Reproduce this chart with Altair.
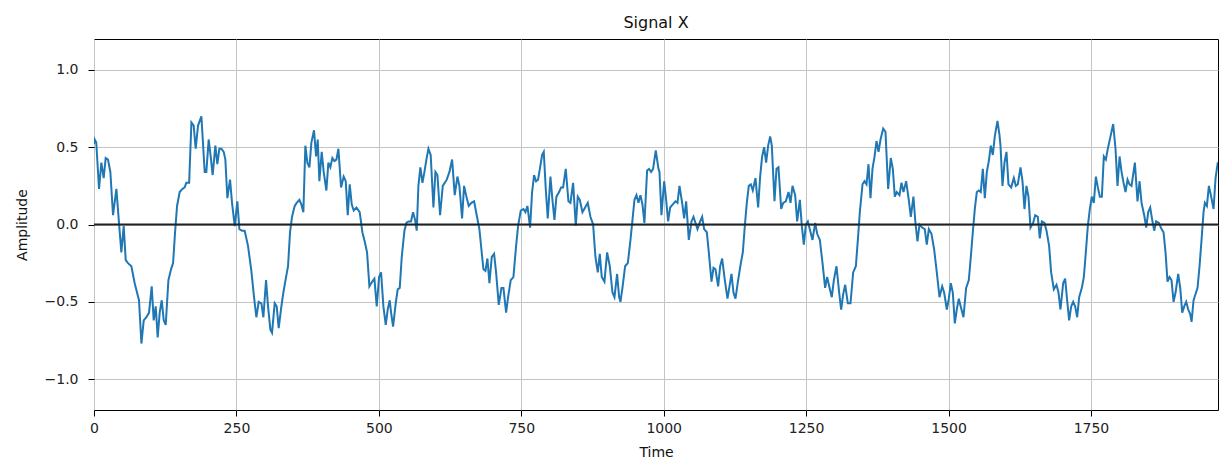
import altair as alt
import pandas as pd

# Sampled signal: time stamps and amplitudes
time = [
    0, 1.2, 4, 8.8, 12.9, 17, 20.5, 24.6, 28.7, 33.4, 39.3, 43.9, 48, 52.1, 55.7, 59.7, 65.6, 71.4, 79, 83.2,
    87.3, 92, 96.6, 101.3, 104.8, 108.3, 111.8, 115.3, 118.9, 122.4, 125.9, 130.6, 135.2, 138.8, 142.3, 145.8,
    150.4, 155.1, 159.2, 162.1, 167, 171, 175, 178.5, 182.6, 188.5, 194.3,
    197.2, 201.3, 204.8, 208.3, 213, 216.5, 220, 223.6, 227.7, 230.6, 234.1, 238.8, 242.3, 247, 251.6, 255.2,
    259.8, 264.5, 270.4, 276.2, 280.9, 285, 289.1, 293.8, 297.3, 302, 305.5, 309.6, 312.5, 317.2, 320.7, 324.2,
    328.9, 332.4, 337.1, 340.6, 344.1, 347.6, 352.3, 355.8, 360.5, 364, 367.5, 371, 374.5, 378.1, 381.6, 386.2,
    389.8, 392.7, 395.6, 399.7,
    403.2, 407.9, 411.4, 414.9, 418.4, 422, 425.5, 429, 433.7, 438.3, 441.9, 445.4, 448.9, 452.4, 455.9, 460.6,
    466.4, 471.1, 475.8, 479.3, 483.4, 488.1, 492.2, 496.3, 500.4, 503.9, 508, 512.1, 515.6, 519.1, 521.5, 525,
    529.6, 533.1, 536.7, 540.2, 544.9, 548.4, 551.9, 556.5, 560.1, 563.6, 566.5, 569.4, 572.9, 576.5, 580, 583.5,
    587, 591,
    595.8, 599.3, 602.8, 607.5, 612.2, 615.7, 619.2, 623.9, 628.6, 633.2, 637.9, 641.4, 646.1, 649.6, 653.1,
    657.8, 662.5, 667.2, 671.8, 676.5, 680, 683.6, 687.1, 690.6, 694.1, 698.2, 702.3, 705.8, 710.5, 715.2, 718.7,
    723.4, 726.9, 731.5, 736.2, 740.9, 744.4, 749.1, 753.8, 757.3, 760.8, 765.5, 769, 772.5, 776, 779.5, 783.1,
    786.6, 789.5,
    793, 796.5, 801.2, 804.7, 808.2, 811.7, 816.4, 819.9, 823.4, 828.1, 832.8, 836.3, 841, 845.7, 849.2, 852.7,
    857.4, 862.1, 866.7, 871.4, 876.1, 880.2, 884.3, 887.8, 891.3, 896, 900.7, 905.4, 910.1, 913.6, 918.2, 921.8,
    924.1, 927.6, 932.3, 937, 941.7, 945.2, 948.7, 952.2, 955.7, 959.2, 962.7, 966.2, 970.9, 974.4, 977.9, 981.4,
    986.1, 990.8,
    992.6, 996.1, 1000.8, 1004.3, 1007.8, 1011.3, 1016, 1020.7, 1024.2, 1027.7, 1032.4, 1035.9, 1039.4, 1044.1,
    1048.8, 1052.3, 1055.8, 1059.3, 1064, 1067.5, 1071, 1075.7, 1079.2, 1083.9, 1087.4, 1090.9, 1095.6, 1099.1,
    1102.6, 1107.3, 1112, 1115.5, 1119, 1122.5, 1126, 1130.7, 1135.4, 1138.9, 1142.4, 1145.9, 1149.4, 1152.9,
    1156.4, 1161.1, 1165.8, 1169.3, 1172.8, 1176.3, 1179.8, 1183.4, 1186.9,
    1189.8, 1194.5, 1198, 1201.5, 1206.2, 1209.7, 1214.4, 1219.1, 1222.6, 1226.1, 1230.8, 1234.3, 1239, 1242.5,
    1246, 1249.5, 1253, 1256.5, 1261.2, 1265.9, 1269.4, 1274.1, 1278.8, 1283.4, 1286.9, 1290.5, 1295.1, 1298.7,
    1303.3, 1308, 1311.5, 1315.1, 1318.6, 1323.2, 1327.9, 1332.6, 1337.3, 1340.8, 1344.3, 1349, 1352.5, 1356,
    1359.5, 1363, 1366.5, 1370.1, 1373.6, 1377.1, 1380.6, 1385.3,
    1389.3, 1394, 1398.6, 1402.2, 1405.7, 1409.2, 1413.9, 1417.4, 1420.9, 1425.6, 1430.2, 1433.8, 1438.4, 1441.9,
    1445.5, 1449, 1453.7, 1458.3, 1461.8, 1465.4, 1470, 1474.7, 1479.4, 1484.1, 1488.8, 1492.3, 1497, 1500.5,
    1504, 1507.5, 1511, 1514.5, 1518, 1522.7, 1526.2, 1530.9, 1535.6, 1539.1, 1542.6, 1546.1, 1549.6, 1553.1,
    1556.6, 1560.2, 1563.7, 1567.2, 1570.7, 1574.2, 1577.7, 1581.2, 1585.9,
    1589.4, 1591.2, 1594.7, 1598.2, 1601.7, 1605.2, 1609.9, 1614.6, 1618.1, 1621.6, 1626.3, 1629.8, 1633.3,
    1636.8, 1640.3, 1643.9, 1648.5, 1652.1, 1656.7, 1660.2, 1663.8, 1668.4, 1672, 1676.6, 1680.1, 1684.8,
    1689.5, 1693, 1696.5, 1701.2, 1704.7, 1708.2, 1711.7, 1715.3, 1718.8, 1722.3, 1725.8, 1729.3, 1734, 1737.5,
    1741, 1744.5, 1748, 1751.5, 1755, 1758.6, 1762.1, 1765.6, 1769.1, 1772.6, 1776.1, 1779.6, 1784.3, 1789,
    1793.1, 1796.6, 1800.2, 1803.7, 1807.2, 1810.7, 1814.2, 1817.7, 1821.2, 1827.1, 1831.7, 1835.3, 1838.8,
    1843.5, 1847, 1850.5, 1854, 1857.5, 1861, 1864.5, 1869.2, 1873.9, 1877.4, 1880.9, 1884.4, 1887.9, 1891.4,
    1895, 1898.5, 1903.1, 1906.7, 1910.2, 1913.7, 1917.2, 1920.7, 1924.2, 1926.6, 1930.1, 1933.6, 1937.1,
    1940.6, 1944.1, 1947.6, 1950, 1953.5, 1957, 1960.5, 1965.2, 1968.7, 1972.2, 1975.7,
]

amplitude = [
    0.52, 0.55, 0.53, 0.23, 0.40, 0.30, 0.43, 0.42, 0.34, 0.06, 0.23, 0.01, -0.18, -0.01, -0.23, -0.25, -0.27, -0.38, -0.49, -0.77,
    -0.62, -0.60, -0.57, -0.40, -0.62, -0.53, -0.73, -0.57, -0.49, -0.62, -0.65, -0.36, -0.29, -0.25, -0.05, 0.12,
    0.21, 0.23, 0.24, 0.27, 0.27, 0.66, 0.64, 0.49, 0.64, 0.70, 0.34,
    0.34, 0.55, 0.44, 0.32, 0.51, 0.39, 0.49, 0.49, 0.47, 0.42, 0.17, 0.29, 0.14, -0.01, 0.15, -0.03,
    -0.04, -0.04, -0.14, -0.30, -0.47, -0.60, -0.50, -0.51, -0.60, -0.36, -0.53, -0.68, -0.70, -0.51, -0.53, -0.67,
    -0.53, -0.44, -0.34, -0.27, -0.05, 0.05, 0.12, 0.14, 0.16, 0.13, 0.08, 0.51, 0.40, 0.37, 0.53, 0.61,
    0.44, 0.55, 0.28, 0.47,
    0.34, 0.22, 0.40, 0.37, 0.43, 0.41, 0.42, 0.49, 0.24, 0.31, 0.28, 0.06, 0.26, 0.13, 0.09, 0.11,
    0.08, -0.05, -0.12, -0.18, -0.40, -0.37, -0.35, -0.53, -0.34, -0.31, -0.53, -0.65, -0.55, -0.49, -0.57, -0.66,
    -0.51, -0.42, -0.41, -0.21, -0.04, 0.01, 0.02, 0.02, 0.08, 0.03, -0.04, 0.25, 0.37, 0.27, 0.34, 0.42,
    0.49, 0.45,
    0.11, 0.34, 0.32, 0.06, 0.25, 0.27, 0.29, 0.34, 0.42, 0.19, 0.31, 0.25, 0.04, 0.25, 0.19,
    0.12, 0.14, 0.15, 0.06, -0.03, -0.16, -0.29, -0.30, -0.22, -0.38, -0.21, -0.19, -0.31, -0.52, -0.41, -0.41,
    -0.57, -0.47, -0.36, -0.34, -0.14, -0.01, 0.09, 0.10, 0.08, 0.12, -0.02, 0.21, 0.32, 0.28, 0.29, 0.37,
    0.45, 0.47,
    0.23, 0.04, 0.31, 0.16, 0.03, 0.18, 0.21, 0.24, 0.24, 0.36, 0.15, 0.14, 0.27, -0.01, 0.18, 0.16,
    0.08, 0.11, 0.14, 0.05, 0.00, -0.21, -0.31, -0.19, -0.34, -0.37, -0.18, -0.27, -0.44, -0.47, -0.32, -0.47,
    -0.50, -0.41, -0.27, -0.25, -0.10, 0.03, 0.16, 0.19, 0.14, 0.19, 0.13, 0.01, 0.35, 0.36, 0.34, 0.36,
    0.48, 0.36,
    0.34, 0.06, 0.28, 0.16, 0.02, 0.11, 0.13, 0.15, 0.14, 0.25, 0.14, 0.04, 0.15, -0.10,
    0.02, 0.05, 0.01, -0.03, 0.02, 0.05, -0.03, -0.05, -0.18, -0.37, -0.28, -0.29, -0.40, -0.27,
    -0.22, -0.36, -0.48, -0.40, -0.32, -0.44, -0.48, -0.36, -0.25, -0.18, -0.01, 0.14, 0.25, 0.26,
    0.22, 0.30, 0.11, 0.31, 0.44, 0.50, 0.40, 0.51, 0.57,
    0.51, 0.15, 0.36, 0.37, 0.10, 0.14, 0.15, 0.21, 0.14, 0.25, 0.19, 0.02, 0.16, -0.01,
    -0.13, 0.00, 0.02, -0.03, -0.10, 0.01, -0.06, -0.10, -0.25, -0.41, -0.34, -0.40, -0.47, -0.36,
    -0.27, -0.44, -0.55, -0.45, -0.39, -0.51, -0.51, -0.31, -0.27, -0.10, 0.08, 0.26, 0.28, 0.26,
    0.39, 0.17, 0.36, 0.44, 0.54, 0.47, 0.55, 0.62,
    0.60, 0.23, 0.43, 0.36, 0.18, 0.21, 0.19, 0.27, 0.21, 0.28, 0.16, 0.05, 0.18, 0.01,
    -0.11, 0.00, -0.02, -0.03, -0.13, -0.03, -0.06, -0.16, -0.31, -0.47, -0.40, -0.44, -0.55, -0.48,
    -0.38, -0.44, -0.64, -0.55, -0.48, -0.55, -0.60, -0.41, -0.36, -0.21, -0.05, 0.10, 0.21, 0.22,
    0.21, 0.36, 0.17, 0.34, 0.41, 0.51, 0.45, 0.57, 0.67,
    0.58, 0.51, 0.25, 0.40, 0.47, 0.26, 0.24, 0.30, 0.25, 0.26, 0.37, 0.28, 0.10,
    0.25, 0.18, -0.02, 0.01, 0.06, 0.05, -0.09, 0.02, 0.01, -0.04, -0.14, -0.31, -0.42,
    -0.39, -0.44, -0.55, -0.38, -0.35, -0.49, -0.62, -0.53, -0.50, -0.53, -0.60, -0.47, -0.41, -0.34,
    -0.18, -0.01, 0.10, 0.18, 0.14, 0.31, 0.24, 0.18, 0.18, 0.44, 0.42, 0.49, 0.57, 0.65,
    0.49, 0.25, 0.44, 0.34, 0.27, 0.21, 0.29, 0.26, 0.25, 0.40, 0.15, 0.28, 0.14,
    0.06, -0.02, 0.08, 0.11, 0.03, -0.04, 0.02, 0.01, -0.03, -0.05, -0.18, -0.37, -0.34, -0.36,
    -0.50, -0.44, -0.32, -0.41, -0.57, -0.53, -0.50, -0.55, -0.58, -0.63, -0.49, -0.45, -0.41,
    -0.27, -0.10, 0.08, 0.14, 0.12, 0.25, 0.19, 0.10, 0.30, 0.39, 0.37,
]

x_ticks = [0, 250, 500, 750, 1000, 1250, 1500, 1750]
y_ticks = [-1.0, -0.5, 0.0, 0.5, 1.0]
zero_level = [0.0]

signal = pd.DataFrame({"Time": time, "Amplitude": amplitude})
baseline = pd.DataFrame({"level": zero_level})

font = "DejaVu Sans"

x_scale = alt.Scale(domain=[0, 1973], nice=False, zero=False)
y_scale = alt.Scale(domain=[-1.2, 1.2], nice=False)

line = alt.Chart(signal).mark_line(color="#1f77b4", strokeWidth=2, clip=True).encode(
    x=alt.X("Time:Q", scale=x_scale,
            axis=alt.Axis(values=x_ticks, format="d", title="Time", labelFlush=False)),
    y=alt.Y("Amplitude:Q", scale=y_scale,
            axis=alt.Axis(values=y_ticks, format=".1f", title="Amplitude", labelFlush=False)),
)

zero_line = alt.Chart(baseline).mark_rule(color="#222222", strokeWidth=2.2).encode(
    y=alt.Y("level:Q", scale=y_scale)
)

chart = (
    alt.layer(line, zero_line)
    .properties(
        width=1124,
        height=371,
        background="white",
        title=alt.TitleParams("Signal X", font=font, fontSize=16, fontWeight="normal",
                              color="#111111", anchor="middle", offset=8),
        autosize=alt.AutoSizeParams(type="none"),
        padding={"left": 94, "top": 39, "right": 2, "bottom": 51},
    )
    .configure_view(stroke="#000000", strokeWidth=1)
    .configure_axis(
        domain=False,
        grid=True,
        gridColor="#c4c4c4",
        gridWidth=1,
        ticks=True,
        tickColor="#000000",
        tickSize=6,
        tickWidth=1,
        labelFont=font,
        labelFontSize=14,
        labelColor="#222222",
        titleFont=font,
        titleFontSize=14,
        titleFontWeight="normal",
        titleColor="#111111",
    )
    .configure_axisX(labelPadding=5, titlePadding=10)
    .configure_axisY(labelPadding=10, titlePadding=15)
)

chart.save("out.html", embed_options={"renderer": "svg", "actions": False})
